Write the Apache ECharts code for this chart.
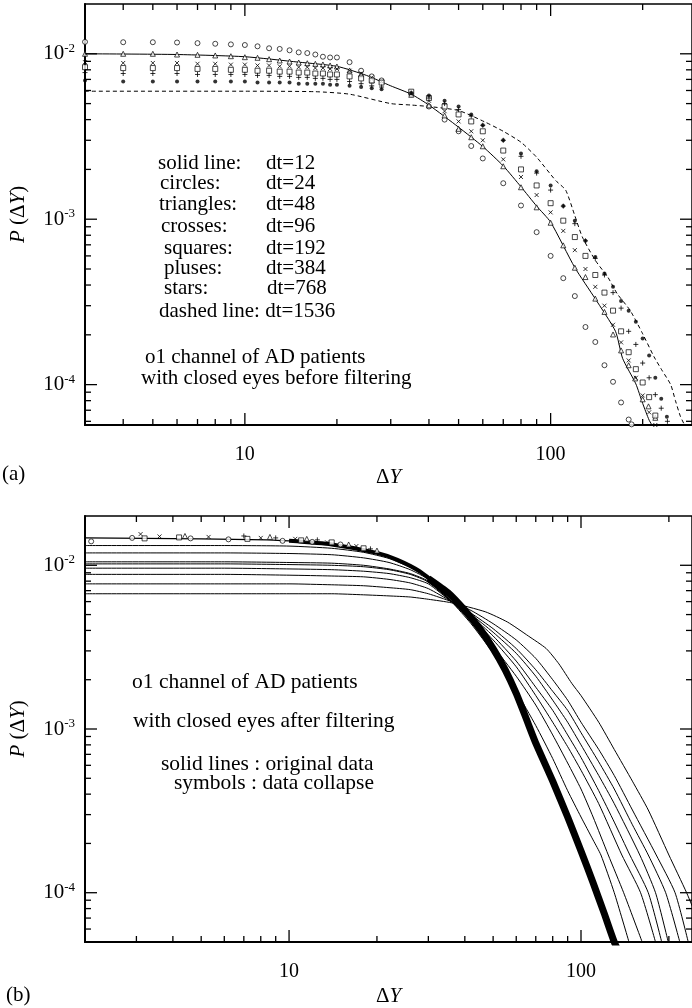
<!DOCTYPE html>
<html>
<head>
<meta charset="utf-8">
<script src="https://cdn.jsdelivr.net/npm/echarts@6/dist/echarts.min.js"></script>
<style>
  html, body { margin: 0; padding: 0; background: #fff; }
  #main { width: 692px; height: 1008px; }
</style>
</head>
<body>
<div id="main"></div>
<script>
// ---- panel (a): before filtering ----
const solidA = [[3,0.0100],[6,0.0099],[10,0.0096],[15,0.0089],[20,0.0084],[25,0.0074],[30,0.0064],[35,0.0057],[40,0.0049],[50,0.0036],[60,0.00275],[70,0.0021],[80,0.00157],[90,0.0012],[100,0.00096],[120,0.00051],[140,0.00033],[163,0.00021],[172,0.000144],[190,0.000101],[200,0.000077],[210,0.000061],[217,0.000055]]
const dashedA = [[3,0.00594],[10,0.00594],[17,0.0059],[22,0.0057],[30,0.0050],[35,0.0049],[40,0.0048],[50,0.00454],[61,0.00387],[70,0.0034],[80,0.00292],[90,0.00237],[104,0.00171],[112,0.0015],[120,0.00105],[127,0.00078],[140,0.000564],[154,0.000445],[165,0.000355],[182,0.000281],[200,0.000203],[218,0.000147],[232,0.000121],[247,0.0001],[256,0.00008],[266,0.000064],[277,0.000055]]
const circlesA = [[3,0.0118],[4,0.01175],[5,0.01175],[6,0.0117],[7,0.0116],[8,0.0115],[9,0.0114],[10,0.0113],[11,0.0111],[12,0.0108],[13,0.0107],[14,0.0105],[15,0.0102],[16,0.0101],[17,0.0099],[18,0.0096],[19,0.0095],[20,0.0095],[22,0.0089],[24,0.0079],[26,0.0073],[28,0.0069],[35,0.0057],[40,0.0048],[45,0.0040],[50,0.0034],[55,0.00277],[60,0.00233],[70,0.00165],[80,0.00121],[90,0.000835],[100,0.0006],[110,0.00044],[120,0.000343],[130,0.000223],[140,0.000181],[150,0.000131],[160,0.000104],[170,0.000078],[180,0.0000615],[184,0.0000575]]
const trianglesA = [[3,0.0100],[4,0.0100],[5,0.0100],[6,0.0099],[7,0.00986],[8,0.00977],[9,0.00967],[10,0.00954],[11,0.00946],[12,0.00928],[13,0.00911],[14,0.00898],[15,0.00886],[16,0.00877],[17,0.0087],[18,0.00862],[19,0.0085],[20,0.00838],[22,0.00793],[24,0.0075],[26,0.0069],[35,0.00565],[40,0.00488],[45,0.00424],[50,0.00352],[55,0.00313],[60,0.00276],[70,0.00209],[80,0.00156],[90,0.00118],[100,0.000952],[110,0.000695],[120,0.000509],[130,0.000447],[140,0.000331],[150,0.000275],[160,0.000201],[170,0.000161],[180,0.000131],[189,0.000109],[200,0.0000815],[209,0.0000739],[220,0.000063]]
const crossesA = [[3,0.0089],[4,0.0088],[5,0.0088],[6,0.0088],[7,0.0087],[8,0.0087],[9,0.0086],[10,0.0086],[11,0.0085],[12,0.0085],[13,0.0084],[14,0.0084],[15,0.0083],[16,0.0083],[17,0.0082],[18,0.0082],[19,0.0081],[20,0.0081],[22,0.0079],[24,0.0076],[26,0.0072],[28,0.0068],[35,0.0058],[40,0.0052],[45,0.0045],[50,0.0039],[55,0.0034],[60,0.0030],[70,0.0023],[80,0.0018],[90,0.0014],[100,0.0011],[110,0.00085],[120,0.00065],[130,0.0005],[140,0.00039],[150,0.0003],[160,0.00023],[170,0.00018],[180,0.00014],[190,0.00011],[200,0.000086],[210,0.000068],[220,0.000057]]
const squaresA = [[3,0.0083],[4,0.0082],[5,0.0082],[6,0.0082],[7,0.0081],[8,0.0081],[9,0.0080],[10,0.0080],[11,0.0079],[12,0.0079],[13,0.0078],[14,0.0078],[15,0.0077],[16,0.0077],[17,0.0076],[18,0.0076],[19,0.0075],[20,0.0075],[22,0.0073],[24,0.0071],[26,0.0069],[28,0.0067],[35,0.0059],[40,0.0054],[45,0.0048],[50,0.0043],[55,0.0039],[60,0.0034],[70,0.0026],[80,0.0020],[90,0.0016],[100,0.00125],[110,0.00098],[120,0.00078],[130,0.0006],[140,0.00046],[150,0.00036],[160,0.00028],[170,0.00021],[180,0.000157],[190,0.000124],[200,0.000103],[210,0.000084],[220,0.000065],[226,0.000055]]
const plusesA = [[3,0.0077],[4,0.0076],[5,0.0076],[6,0.0076],[7,0.0075],[8,0.0075],[9,0.0075],[10,0.0075],[11,0.0074],[12,0.0074],[13,0.0073],[14,0.0073],[15,0.0072],[16,0.0072],[17,0.0071],[18,0.0071],[19,0.0070],[20,0.0070],[22,0.0068],[24,0.0066],[26,0.0064],[28,0.0063],[35,0.0058],[40,0.0054],[45,0.0050],[50,0.0046],[55,0.0042],[60,0.0037],[70,0.0030],[80,0.0024],[90,0.0019],[100,0.0015],[110,0.0012],[120,0.00094],[130,0.00074],[140,0.00058],[150,0.00046],[160,0.00036],[170,0.00029],[180,0.00021],[190,0.000175],[200,0.000135],[210,0.00011],[220,0.000087],[230,0.000072],[241,0.00006]]
const starsA = [[3,0.0069],[4,0.0068],[5,0.0068],[6,0.0068],[7,0.0068],[8,0.0068],[9,0.0068],[10,0.0068],[11,0.0067],[12,0.0067],[13,0.0067],[14,0.0067],[15,0.0066],[16,0.0066],[17,0.0066],[18,0.0066],[19,0.0065],[20,0.0065],[22,0.0064],[24,0.0063],[26,0.0062],[28,0.0061],[35,0.0058],[40,0.0056],[45,0.0052],[50,0.0048],[55,0.0043],[60,0.0037],[70,0.0030],[80,0.0025],[90,0.00195],[100,0.0016],[110,0.0012],[120,0.00098],[130,0.00074],[140,0.00059],[150,0.00047],[160,0.00039],[170,0.00032],[180,0.00028],[190,0.00024],[200,0.00019],[210,0.00015],[220,0.00011],[230,0.000082],[240,0.000064],[247,0.000056]]

// ---- panel (b): after filtering ----
const lineB1 = [[2,0.0132],[6,0.0132],[10,0.0131],[14,0.0127],[18,0.0120],[22,0.0110],[26,0.0097],[30,0.0083],[36,0.0060],[42,0.0044],[50,0.0029],[60,0.0017],[70,0.00105],[80,0.00066],[90,0.00042],[100,0.00029],[110,0.00021],[117,0.00017],[130,0.0001],[146,0.00005]]
const lineB2 = [[2,0.0119],[6,0.0119],[10,0.0118],[14,0.0116],[18,0.0111],[22,0.0104],[26,0.0094],[30,0.0082],[36,0.0060],[42,0.0046],[50,0.0032],[60,0.0021],[70,0.0014],[80,0.00092],[90,0.00062],[100,0.00043],[110,0.00029],[124,0.00017],[140,0.0001],[162,0.00005]]
const lineB3 = [[2,0.0105],[6,0.0105],[10,0.0104],[14,0.0103],[18,0.0100],[22,0.0095],[26,0.0089],[30,0.0080],[36,0.0060],[42,0.0048],[50,0.0035],[60,0.0024],[70,0.0016],[80,0.0011],[90,0.00078],[100,0.00056],[115,0.00035],[138,0.00017],[160,0.0001],[180,0.00005]]
const lineB4 = [[2,0.0102],[6,0.0102],[10,0.0101],[14,0.0100],[18,0.0098],[22,0.0094],[26,0.0088],[30,0.0079],[36,0.0060],[42,0.0049],[50,0.0037],[60,0.0026],[70,0.0018],[80,0.0013],[90,0.00092],[100,0.00067],[115,0.00042],[130,0.00027],[147,0.00017],[170,0.0001],[189,0.00005]]
const lineB5 = [[2,0.0096],[6,0.0096],[10,0.0095],[14,0.0094],[18,0.0092],[22,0.0089],[26,0.0084],[30,0.0077],[36,0.0060],[42,0.0050],[50,0.0039],[60,0.0029],[70,0.0021],[80,0.0015],[90,0.0011],[100,0.0008],[115,0.00052],[130,0.00035],[159,0.00017],[180,0.0001],[199,0.00005]]
const lineB6 = [[2,0.0088],[6,0.0088],[10,0.0087],[14,0.0086],[18,0.0085],[22,0.0082],[26,0.0078],[30,0.0072],[36,0.0060],[42,0.0051],[50,0.0041],[60,0.0031],[70,0.0023],[80,0.0017],[90,0.0013],[100,0.00095],[115,0.00063],[130,0.00043],[150,0.00026],[170,0.00017],[195,0.0001],[218,0.00005]]
const lineB7 = [[2,0.0077],[6,0.0077],[10,0.0077],[14,0.0076],[18,0.0075],[22,0.0073],[26,0.0071],[30,0.0067],[36,0.0060],[42,0.0053],[50,0.0044],[60,0.0035],[70,0.0027],[80,0.0020],[90,0.0015],[100,0.0011],[115,0.00075],[130,0.00052],[150,0.00032],[181,0.00017],[210,0.0001],[233,0.00005]]
const lineB8 = [[2,0.0067],[6,0.0067],[10,0.0067],[14,0.0067],[18,0.0066],[22,0.0065],[26,0.0064],[30,0.0062],[36,0.0059],[47,0.0052],[56,0.0045],[66,0.0037],[76,0.0031],[84,0.0025],[93,0.0019],[100,0.0016],[115,0.0011],[130,0.00075],[150,0.00048],[170,0.00032],[200,0.00017],[230,0.0001],[250,0.00007]]
const collapseThin = [[2,0.0147],[5,0.0145],[8.4,0.0143],[12,0.0139]]
const collapseMid = [[10,0.0141],[14,0.0134],[20,0.0119],[23.5,0.0108],[28,0.0092],[33,0.0073]]
const collapseBand = [[30,0.0083],[35,0.0068],[40,0.0053],[45,0.0041],[50,0.0031],[55,0.0023],[60,0.00165],[65,0.00115],[70,0.00082],[80,0.00048],[90,0.00029],[100,0.00018],[110,0.000115],[120,0.000075],[130,0.00005],[136,0.000042]]
const collapseCircles = [[2.1,0.0140],[2.9,0.0147],[4.6,0.0146],[6.2,0.0144],[9.5,0.0141],[12,0.0139],[15,0.0134]]
const collapseCrosses = [[3.1,0.0155],[3.6,0.0150],[5.3,0.0149],[8.0,0.0147],[10.5,0.0145],[13.5,0.0138],[17,0.0131]]
const collapseSquares = [[3.2,0.0146],[4.2,0.0148],[7.2,0.0145],[11,0.0142],[14,0.0138],[18,0.0127]]
const collapseTriangles = [[4.4,0.0151],[8.6,0.0149],[11.5,0.0145],[16,0.0134],[20,0.0123]]
const collapsePluses = [[7.0,0.0151],[9.0,0.0147],[12.5,0.0143],[19,0.0126]]

// ---- axis ticks (drawn inward on all four sides) ----
const xMajorA = [10, 100]
const xMinorA = [4, 5, 6, 7, 8, 9, 20, 30, 40, 50, 60, 70, 80, 90, 200]
const xMajorB = [10, 100]
const xMinorB = [3, 4, 5, 6, 7, 8, 9, 20, 30, 40, 50, 60, 70, 80, 90, 200]
const yMajor = [0.01, 0.001, 0.0001]
const yMinor = [0.009, 0.008, 0.007, 0.006, 0.005, 0.004, 0.003, 0.002,
  0.0009, 0.0008, 0.0007, 0.0006, 0.0005, 0.0004, 0.0003, 0.0002,
  0.00009, 0.00008, 0.00007, 0.00006]

const serif = '"Liberation Serif", "Times New Roman", serif'

function tickData(xMaj, xMin, yMaj, yMin) {
  const d = []
  xMin.forEach(v => d.push([v, 0.001, 0]))
  xMaj.forEach(v => d.push([v, 0.001, 1]))
  yMin.forEach(v => d.push([10, v, 2]))
  yMaj.forEach(v => d.push([10, v, 3]))
  return d
}

function renderTick(params, api) {
  const k = api.value(2)
  const cs = params.coordSys
  const p = api.coord([api.value(0), api.value(1)])
  const len = (k === 1 || k === 3) ? 12 : 6
  const st = { stroke: '#000', lineWidth: 1.3 }
  if (k < 2) {
    const b = cs.y + cs.height
    return { type: 'group', children: [
      { type: 'line', shape: { x1: p[0], y1: b, x2: p[0], y2: b - len }, style: st },
      { type: 'line', shape: { x1: p[0], y1: cs.y, x2: p[0], y2: cs.y + len }, style: st }
    ] }
  }
  const r = cs.x + cs.width
  return { type: 'group', children: [
    { type: 'line', shape: { x1: cs.x, y1: p[1], x2: cs.x + len, y2: p[1] }, style: st },
    { type: 'line', shape: { x1: r, y1: p[1], x2: r - len, y2: p[1] }, style: st }
  ] }
}

const powLabel = v => {
  const e = Math.round(Math.log10(v))
  return Math.abs(Math.log10(v) - e) < 1e-6 ? String(Math.pow(10, e)) : ''
}
const expLabel = v => {
  const e = Math.round(Math.log10(v))
  return Math.abs(Math.log10(v) - e) < 1e-6 ? '{b|10}{s|' + e + '}' : ''
}

function xAxisOpt(idx, min, max, gap) {
  return {
    type: 'log', logBase: 10, gridIndex: idx, min: min, max: max,
    axisLine: { lineStyle: { color: '#000', width: 2 } },
    axisTick: { show: false }, splitLine: { show: false },
    axisLabel: { formatter: powLabel, margin: 20, color: '#000', fontSize: 20, fontFamily: serif, showMinLabel: false, showMaxLabel: false },
    name: '{d|Δ}{i|Y}', nameLocation: 'middle', nameGap: gap,
    nameTextStyle: { rich: {
      d: { fontSize: 21, fontFamily: serif, color: '#000' },
      i: { fontSize: 21, fontFamily: serif, fontStyle: 'italic', color: '#000' }
    } }
  }
}
function yAxisOpt(idx, min, max) {
  return {
    type: 'log', logBase: 10, gridIndex: idx, min: min, max: max,
    axisLine: { lineStyle: { color: '#000', width: 2 } },
    axisTick: { show: false }, splitLine: { show: false },
    axisLabel: { formatter: expLabel, margin: 10, showMinLabel: false, showMaxLabel: false,
      rich: {
        b: { fontSize: 21, fontFamily: serif, color: '#000', lineHeight: 24 },
        s: { fontSize: 13, fontFamily: serif, color: '#000', lineHeight: 13, verticalAlign: 'top' }
      } },
    name: '{i|P} (Δ{i|Y})', nameLocation: 'middle', nameGap: 56, nameRotate: 90,
    nameTextStyle: { fontSize: 21, fontFamily: serif, color: '#000', rich: {
      i: { fontSize: 21, fontFamily: serif, fontStyle: 'italic', color: '#000' }
    } }
  }
}

function pts(name, data, xi, symbol, size, filled) {
  return {
    name: name, type: 'scatter', xAxisIndex: xi, yAxisIndex: xi, data: data,
    symbol: symbol, symbolSize: size, silent: true, z: 4,
    itemStyle: { color: filled ? '#000' : '#fff', borderColor: '#000', borderWidth: filled ? 0 : 0.9 }
  }
}
function strokePts(name, data, xi, path, size) {
  return {
    name: name, type: 'scatter', xAxisIndex: xi, yAxisIndex: xi, data: data,
    symbol: path, symbolSize: size, silent: true, z: 4,
    itemStyle: { color: 'none', borderColor: '#000', borderWidth: 1 }
  }
}
function line(name, data, xi, dashed, width) {
  return {
    name: name, type: 'line', xAxisIndex: xi, yAxisIndex: xi, data: data,
    showSymbol: false, smooth: 0.2, silent: true, z: 3, clip: true,
    lineStyle: { color: '#000', width: width || 1, type: dashed ? [4, 3] : 'solid' }
  }
}

const crossPath = 'path://M0,0L10,10M0,10L10,0'
const plusPath = 'path://M5,0L5,10M0,5L10,5'

const chart = echarts.init(document.getElementById('main'))

// [text, left, middle-y, font size]
const notes = [
  ['solid line:', 158, 163, 21], ['dt=12', 266, 163, 21],
  ['circles:', 160, 183, 21], ['dt=24', 266, 183, 21],
  ['triangles:', 159, 204, 21], ['dt=48', 266, 204, 21],
  ['crosses:', 161, 226, 21], ['dt=96', 266, 226, 21],
  ['squares:', 164, 248, 21], ['dt=192', 266, 248, 21],
  ['pluses:', 164, 268, 21], ['dt=384', 266, 268, 21],
  ['stars:', 164, 288, 21], ['dt=768', 267, 288, 21],
  ['dashed line: dt=1536', 159, 311, 21],
  ['o1 channel of AD patients', 145, 357, 21],
  ['with closed eyes before filtering', 141, 378, 21],
  ['o1 channel of AD patients', 132, 682, 21.5],
  ['with closed eyes after filtering', 133, 721, 21.5],
  ['solid lines : original data', 161, 764, 21.5],
  ['symbols : data collapse', 174, 783, 21.5],
  ['(a)', 2, 474, 21],
  ['(b)', 6, 995, 21]
]

chart.setOption({
  backgroundColor: '#fff',
  animation: false,
  grid: [
    { left: 83, top: 4, width: 609.5, height: 421, show: true, borderColor: '#000', borderWidth: 1.5, containLabel: false },
    { left: 83, top: 516, width: 611, height: 432, show: true, borderColor: '#000', borderWidth: 1.5, containLabel: false }
  ],
  xAxis: [xAxisOpt(0, 3, 290, 42), xAxisOpt(1, 2, 240, 44)],
  yAxis: [yAxisOpt(0, 5.7e-5, 0.02), yAxisOpt(1, 5e-5, 0.02)],
  graphic: notes.map(t => ({
    type: 'text', x: t[1], y: t[2], silent: true,
    style: { text: t[0], font: t[3] + 'px ' + serif, fill: '#000', verticalAlign: 'middle' }
  })),
  series: [
    line('dt=12', solidA, 0, false, 1),
    line('dt=1536', dashedA, 0, true, 1),
    pts('dt=24', circlesA, 0, 'circle', 5, false),
    pts('dt=48', trianglesA, 0, 'triangle', 5, false),
    strokePts('dt=96', crossesA, 0, crossPath, 4),
    pts('dt=192', squaresA, 0, 'rect', 5, false),
    strokePts('dt=384', plusesA, 0, plusPath, 5),
    pts('dt=768', starsA, 0, 'circle', 4, true),
    { type: 'custom', xAxisIndex: 0, yAxisIndex: 0, data: tickData(xMajorA, xMinorA, yMajor, yMinor), renderItem: renderTick, silent: true, z: 6 },

    line('b1', lineB1, 1), line('b2', lineB2, 1), line('b3', lineB3, 1), line('b4', lineB4, 1),
    line('b5', lineB5, 1), line('b6', lineB6, 1), line('b7', lineB7, 1), line('b8', lineB8, 1),
    line('collapse-thin', collapseThin, 1, false, 1.2),
    line('collapse-mid', collapseMid, 1, false, 4),
    line('collapse', collapseBand, 1, false, 7),
    pts('c-circles', collapseCircles, 1, 'circle', 5, false),
    strokePts('c-crosses', collapseCrosses, 1, crossPath, 4),
    pts('c-squares', collapseSquares, 1, 'rect', 5, false),
    pts('c-triangles', collapseTriangles, 1, 'triangle', 5, false),
    strokePts('c-pluses', collapsePluses, 1, plusPath, 5),
    { type: 'custom', xAxisIndex: 1, yAxisIndex: 1, data: tickData(xMajorB, xMinorB, yMajor, yMinor.concat([0.00005])), renderItem: renderTick, silent: true, z: 6 }
  ]
})
</script>
</body>
</html>
